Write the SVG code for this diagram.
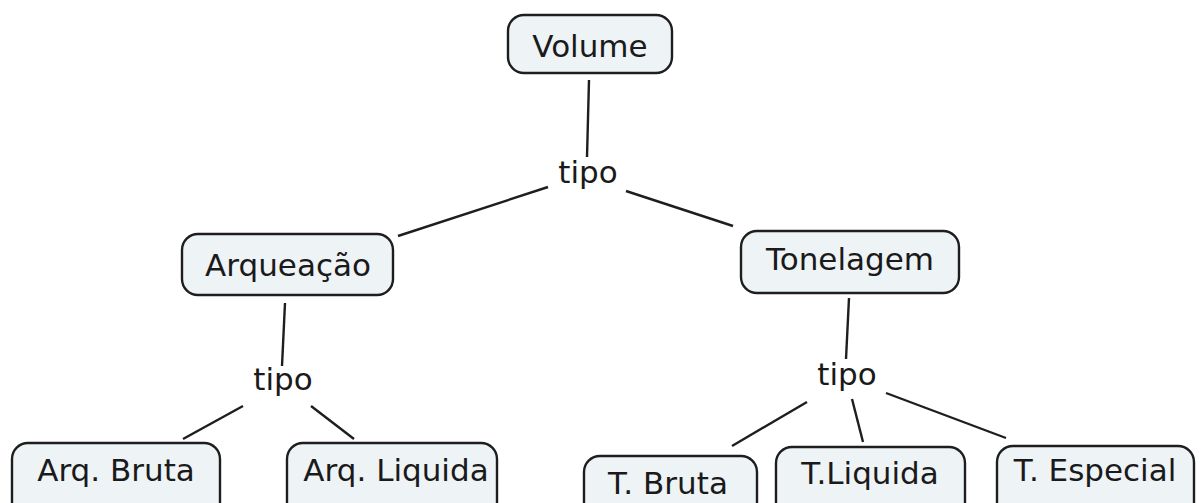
<svg xmlns="http://www.w3.org/2000/svg" width="1201" height="503" viewBox="0 0 1201 503">
<style>
.box{fill:#eef3f6;stroke:#1e1e1e;stroke-width:2.4}
.t{font-family:"DejaVu Sans",Verdana,sans-serif;font-size:31px;fill:#1a1a1a;text-anchor:middle}
.c{stroke:#1e1e1e;stroke-width:2.4;fill:none}
</style>
<rect width="1201" height="503" fill="#ffffff"/>
<g id="connectors">
<line class="c" x1="589" y1="80" x2="587" y2="157"/>
<line class="c" x1="548" y1="187" x2="398" y2="236"/>
<line class="c" x1="626" y1="191" x2="733" y2="226"/>
<line class="c" x1="285" y1="303" x2="282" y2="366"/>
<line class="c" x1="243" y1="406" x2="183" y2="439"/>
<line class="c" x1="311" y1="406" x2="354" y2="439"/>
<line class="c" x1="849" y1="298" x2="846" y2="359"/>
<line class="c" x1="807" y1="402" x2="732" y2="446"/>
<line class="c" x1="852" y1="399" x2="863" y2="442"/>
<line class="c" x1="886" y1="393" x2="1006" y2="438"/>
</g>
<g id="tipo1"><text class="t" x="588" y="183">tipo</text></g>
<g id="tipo2"><text class="t" x="283" y="390">tipo</text></g>
<g id="tipo3"><text class="t" x="847" y="385">tipo</text></g>
<g id="volume"><rect class="box" x="508" y="15" width="164" height="58" rx="16"/><text class="t" x="590" y="57">Volume</text></g>
<g id="arqueacao"><rect class="box" x="182" y="234" width="211" height="61" rx="16"/><text class="t" x="288" y="276">Arqueação</text></g>
<g id="tonelagem"><rect class="box" x="741" y="231" width="218" height="62" rx="16"/><text class="t" x="850" y="270">Tonelagem</text></g>
<g id="arq-bruta"><rect class="box" x="12" y="443" width="208" height="80" rx="16"/><text class="t" x="116" y="481">Arq. Bruta</text></g>
<g id="arq-liquida"><rect class="box" x="287" y="443" width="210" height="80" rx="16"/><text class="t" x="396" y="481">Arq. Liquida</text></g>
<g id="t-bruta"><rect class="box" x="584" y="456" width="173" height="80" rx="16"/><text class="t" x="668" y="494">T. Bruta</text></g>
<g id="t-liquida"><rect class="box" x="776" y="447" width="189" height="80" rx="16"/><text class="t" x="870" y="484">T.Liquida</text></g>
<g id="t-especial"><rect class="box" x="997" y="446" width="197" height="80" rx="16"/><text class="t" x="1095" y="481">T. Especial</text></g>
</svg>
